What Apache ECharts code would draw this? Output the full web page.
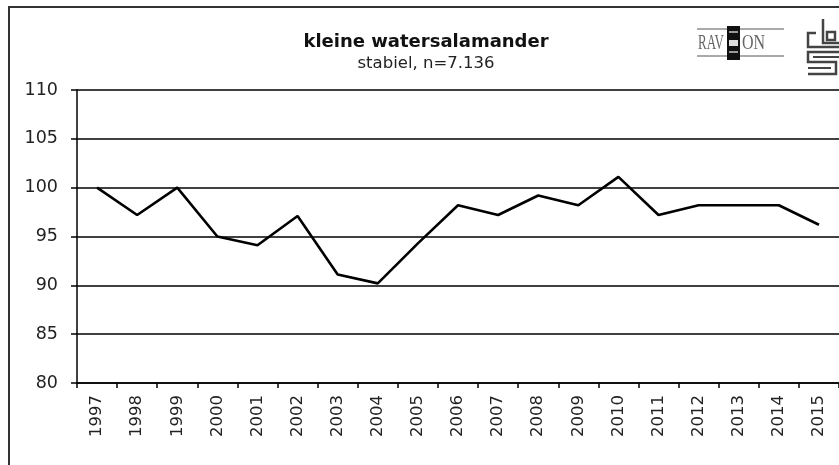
<!DOCTYPE html>
<html>
<head>
    <meta charset="utf-8">
    <script src="https://cdn.jsdelivr.net/npm/echarts@6/dist/echarts.min.js"></script>
    <style>
        body { margin: 0; background: #fff; }
        #chart { width: 839px; height: 465px; }
    </style>
</head>
<body>
<div id="chart"></div>
<script type="text/javascript">
    // jaren en index (1997 = 100)
    var jaren = ['1997', '1998', '1999', '2000', '2001', '2002', '2003', '2004', '2005', '2006',
        '2007', '2008', '2009', '2010', '2011', '2012', '2013', '2014', '2015'];
    var index = [100, 97.2, 100, 95, 94.1, 97.1, 91.1, 90.2, 94.3, 98.2,
        97.2, 99.2, 98.2, 101.1, 97.2, 98.2, 98.2, 98.2, 96.2];
    var titel = 'kleine watersalamander';
    var ondertitel = 'stabiel, n=7.136';

    var font = 'Verdana, "DejaVu Sans", sans-serif';
    var myChart = echarts.init(document.getElementById('chart'));

    var option = {
        backgroundColor: '#fff',
        animation: false,
        title: {
            text: titel,
            subtext: ondertitel,
            left: 421,
            top: 28,
            textAlign: 'center',
            itemGap: 4,
            textStyle: { fontFamily: font, fontSize: 18, fontWeight: 'bold', color: '#111' },
            subtextStyle: { fontFamily: font, fontSize: 16.5, color: '#222' }
        },
        grid: { left: 77, right: -1, top: 90, bottom: 82 },
        xAxis: {
            type: 'category',
            data: jaren,
            boundaryGap: true,
            axisLine: { lineStyle: { color: '#000', width: 1.5 } },
            axisTick: { show: true, length: 5, lineStyle: { color: '#000', width: 1.5 } },
            axisLabel: { rotate: 90, margin: 12, fontFamily: font, fontSize: 16.5, color: '#222' }
        },
        yAxis: {
            type: 'value',
            min: 80,
            max: 110,
            interval: 5,
            axisLine: { show: true, lineStyle: { color: '#000', width: 1.5 } },
            axisTick: { show: true, length: 6, lineStyle: { color: '#000', width: 1.5 } },
            splitLine: { lineStyle: { color: '#000', width: 1.5 } },
            axisLabel: { margin: 19, fontFamily: font, fontSize: 17.5, color: '#222' }
        },
        series: [{
            type: 'line',
            data: index,
            symbol: 'none',
            lineStyle: { color: '#000', width: 2.6 }
        }],
        graphic: [
            // kader
            { type: 'rect', shape: { x: 9, y: 7, width: 840, height: 470 },
              style: { fill: 'none', stroke: '#333', lineWidth: 2 } },
            // RAVON logo
            { type: 'line', shape: { x1: 697, y1: 29, x2: 784, y2: 29 }, style: { stroke: '#aaa', lineWidth: 2 } },
            { type: 'line', shape: { x1: 697, y1: 56, x2: 784, y2: 56 }, style: { stroke: '#aaa', lineWidth: 2 } },
            { type: 'text', x: 698, y: 44, scaleX: 0.65,
              style: { text: 'RAV', x: 0, y: 0, verticalAlign: 'middle',
                font: '20px "Liberation Serif", serif', fill: '#666' } },
            { type: 'rect', shape: { x: 727, y: 26, width: 13, height: 34 }, style: { fill: '#111' } },
            { type: 'rect', shape: { x: 729, y: 31, width: 9, height: 2 }, style: { fill: '#999' } },
            { type: 'rect', shape: { x: 729, y: 40, width: 9, height: 6 }, style: { fill: '#ddd' } },
            { type: 'rect', shape: { x: 729, y: 51, width: 9, height: 2 }, style: { fill: '#999' } },
            { type: 'text', x: 742, y: 44, scaleX: 0.8,
              style: { text: 'ON', x: 0, y: 0, verticalAlign: 'middle',
                font: '20px "Liberation Serif", serif', fill: '#666' } },
            // CBS logo
            { type: 'polyline', shape: { points: [[816, 33], [808, 33], [808, 47], [839, 47]] },
              style: { stroke: '#444', lineWidth: 2.5, fill: 'none' } },
            { type: 'polyline', shape: { points: [[823, 19], [823, 43], [839, 43]] },
              style: { stroke: '#444', lineWidth: 2.5, fill: 'none' } },
            { type: 'rect', shape: { x: 827, y: 32, width: 8, height: 8 },
              style: { stroke: '#444', lineWidth: 2.5, fill: 'none' } },
            { type: 'polyline', shape: { points: [[839, 52], [808, 52], [808, 62], [836, 62], [836, 74], [808, 74]] },
              style: { stroke: '#444', lineWidth: 2.5, fill: 'none' } },
            { type: 'polyline', shape: { points: [[813, 57], [839, 57]] },
              style: { stroke: '#444', lineWidth: 2, fill: 'none' } },
            { type: 'polyline', shape: { points: [[808, 68], [831, 68]] },
              style: { stroke: '#444', lineWidth: 2, fill: 'none' } }
        ]
    };
    myChart.setOption(option);
</script>
</body>
</html>
